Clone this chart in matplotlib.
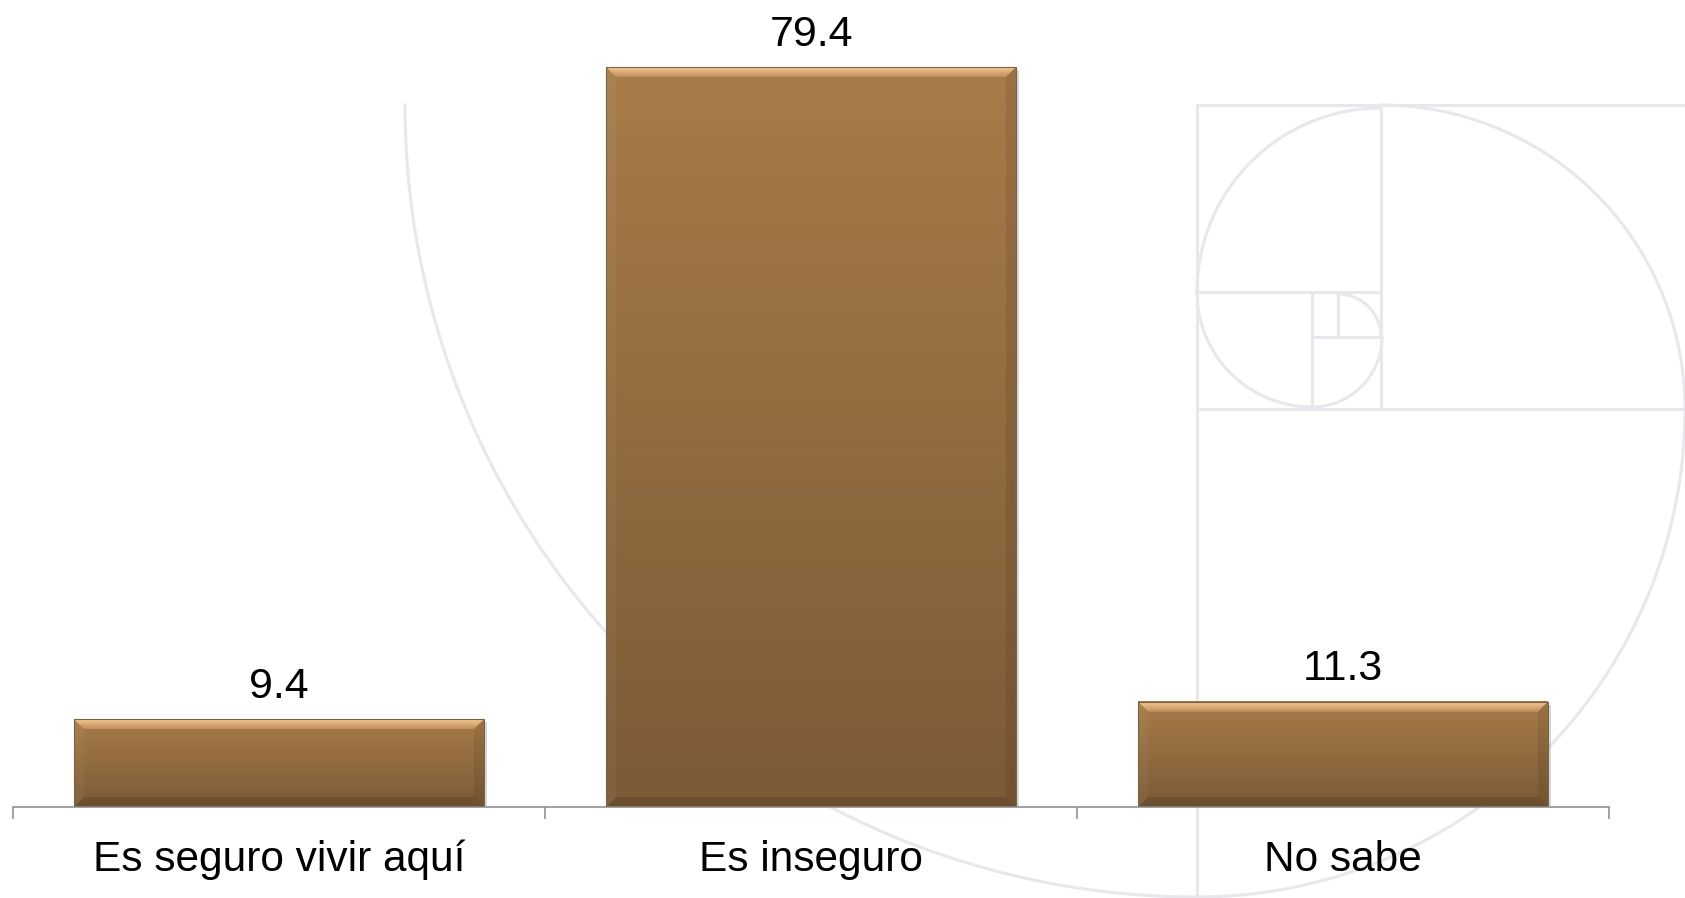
import numpy as np
import matplotlib.pyplot as plt
from matplotlib.patches import Polygon, Rectangle
from matplotlib.colors import LinearSegmentedColormap
from matplotlib.lines import Line2D

plt.rcParams['font.family'] = ['Liberation Sans', 'DejaVu Sans']

# datos
categories = ['Es seguro vivir aquí', 'Es inseguro', 'No sabe']
values = [9.4, 79.4, 11.3]

W, H, DPI = 1685, 898, 100
YMAX = 86.6

fig = plt.figure(figsize=(W / DPI, H / DPI), dpi=DPI)


def to_fig(xs, ys):
    # pixel coords (origen arriba-izquierda) -> fraccion de figura
    return np.asarray(xs) / W, 1 - np.asarray(ys) / H


# marca de agua: rectangulo aureo con espiral
wm_color = '#e8e8ec'
wm_lw = 2.2
segments = [((1197, 105), (1197, 898)), ((1197, 105), (1685, 105)),
            ((1381, 105), (1381, 409)), ((1197, 292), (1381, 292)),
            ((1197, 409), (1685, 409)), ((1312, 292), (1312, 409)),
            ((1312, 337), (1381, 337)), ((1338, 292), (1338, 337))]
for (xa, ya), (xb, yb) in segments:
    fx, fy = to_fig([xa, xb], [ya, yb])
    fig.add_artist(Line2D(fx, fy, color=wm_color, lw=wm_lw, zorder=-1))

arcs = [((1381, 292), 184, 90, 180), ((1381, 409), 304, 0, 90),
        ((1197, 409), 488, -90, 0), ((1197, 105), 792, -180, -90),
        ((1312, 292), 115, 180, 270), ((1312, 337), 70, 270, 360),
        ((1338, 337), 43, 0, 90)]
for (cx, cy), r, t1, t2 in arcs:
    t = np.radians(np.linspace(t1, t2, 200))
    fx, fy = to_fig(cx + r * np.cos(t), cy - r * np.sin(t))
    fig.add_artist(Line2D(fx, fy, color=wm_color, lw=wm_lw, zorder=-1))

# ejes
ax = fig.add_axes([13 / W, (H - 807) / H, (1609 - 13) / W, 807 / H])
ax.patch.set_alpha(0)

x = np.arange(len(categories))
bars = ax.bar(x, values, width=0.77, color='none', edgecolor='none', zorder=2)

pos = ax.get_position()
ux = pos.width * W / 3.0      # px por unidad x
uy = pos.height * H / YMAX    # px por unidad y
bx, by = 10 / ux, 10 / uy

body_cmap = LinearSegmentedColormap.from_list('body', ['#a87c4a', '#7c5a36'])
top_cmap = LinearSegmentedColormap.from_list('top', ['#f5c995', '#c08d58'])
grad = np.linspace(0, 1, 256).reshape(-1, 1)

for r in bars:
    x0, w, h = r.get_x(), r.get_width(), r.get_height()
    x1 = x0 + w

    # sombra
    ax.add_patch(Rectangle((x0 + 3 / ux, 0), w, h - 3 / uy, color='black',
                           alpha=0.15, lw=0, zorder=1.5))
    # cuerpo con degradado
    ax.imshow(grad, extent=[x0, x1, 0, h], aspect='auto', cmap=body_cmap,
              interpolation='bicubic', zorder=2)
    # bisel superior
    top = Polygon([(x0, h), (x1, h), (x1 - bx, h - by), (x0 + bx, h - by)],
                  closed=True, facecolor='none', edgecolor='none')
    ax.add_patch(top)
    im = ax.imshow(grad, extent=[x0, x1, h - by, h], aspect='auto',
                   cmap=top_cmap, interpolation='bicubic', zorder=2.2)
    im.set_clip_path(top)
    # biseles laterales e inferior
    ax.add_patch(Polygon([(x0, 0), (x0, h), (x0 + bx, h - by), (x0 + bx, by)],
                         closed=True, facecolor='white', alpha=0.04, lw=0, zorder=2.1))
    ax.add_patch(Polygon([(x1, 0), (x1, h), (x1 - bx, h - by), (x1 - bx, by)],
                         closed=True, facecolor='black', alpha=0.08, lw=0, zorder=2.1))
    ax.add_patch(Polygon([(x0, 0), (x1, 0), (x1 - bx, by), (x0 + bx, by)],
                         closed=True, facecolor='black', alpha=0.13, lw=0, zorder=2.1))
    # contorno
    ax.add_patch(Rectangle((x0, 0), w, h, facecolor='none', edgecolor='#7a6244',
                           lw=0.8, zorder=2.3))

# etiquetas de valor
for i, v in enumerate(values):
    ax.annotate(f'{v:.1f}', xy=(x[i], v), xytext=(0, 15.5),
                textcoords='offset points', ha='center', va='baseline',
                fontsize=31, color='black')

ax.set_xlim(-0.5, 2.5)
ax.set_ylim(0, YMAX)

ax.set_xticks(x, categories, fontsize=30.5)
for t in ax.get_xticklabels():
    t.set_va('baseline')
ax.tick_params(axis='x', which='major', length=0, pad=46)
ax.set_xticks([-0.5, 0.5, 1.5, 2.5], minor=True)
ax.tick_params(axis='x', which='minor', length=8.6, width=1.1, color='#888888')
ax.set_yticks([])

for s in ['top', 'left', 'right']:
    ax.spines[s].set_visible(False)
ax.spines['bottom'].set_color('#888888')
ax.spines['bottom'].set_linewidth(1.1)
ax.spines['bottom'].set_zorder(3)

fig.savefig('out.png', dpi=DPI)
